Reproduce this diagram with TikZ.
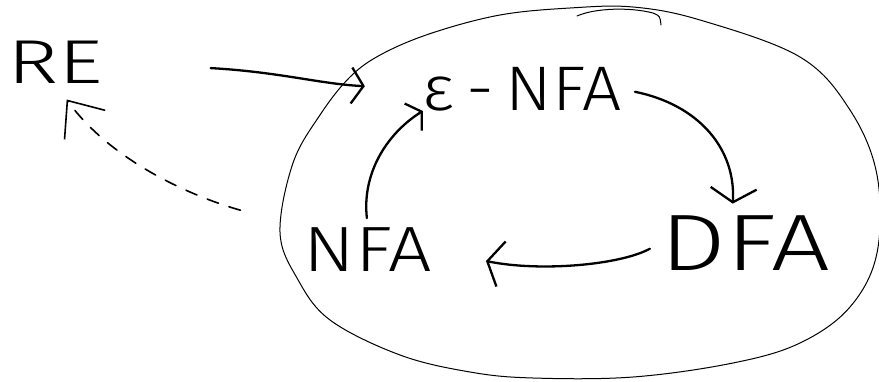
\documentclass[tikz,border=0pt]{standalone}
\usepackage{fontspec}
\setmainfont{Fira Sans}[UprightFont=* Light]
\usetikzlibrary{arrows.meta}
\begin{document}
\begin{tikzpicture}[x=1pt,y=-1pt,
  lbl/.style={inner sep=0pt,outer sep=0pt},
  conn/.style={line width=2.3pt,line cap=round,line join=round},
  rim/.style={line width=1pt,line cap=round}]
\useasboundingbox (0,0) rectangle (879,381);
% big hand-drawn oval
\draw[rim] plot[smooth cycle,tension=0.6] coordinates {
  (280,232) (293,163) (320,115) (350,77) (382,54) (432,33) (500,15) (570,8)
  (633,7) (700,20) (800,57) (850,110) (877,175) (877,253) (850,307) (800,343)
  (733,363) (633,377) (533,378) (470,372) (400,355) (330,320) (297,278)};
\draw[rim] (577,16) .. controls (595,8) and (630,7) .. (653,13) .. controls (660,16) .. (661,25);
% labels
\node[lbl,font=\fontsize{62}{62}\selectfont] (re) at (55,62) {\scalebox{1.4}[1]{RE}};
\node[lbl,font=\fontsize{63}{63}\selectfont] (enfa) at (522,89) {\scalebox{1.1}[1]{ε\,-\,NFA}};
\node[lbl,font=\fontsize{64}{64}\selectfont] (nfa) at (368,250) {\scalebox{1.2}[1]{NFA}};
\node[lbl,font=\fontsize{80}{80}\selectfont] (dfa) at (745,243) {\scalebox{1.3}[1]{DFA}};
% connectors
\draw[conn,-{Straight Barb[length=12pt,width=36pt,line width=2.3pt]},shorten <=108pt,shorten >=58pt]
  (re.east) .. controls (280,72) and (320,84) .. (enfa.west);
\draw[line width=1.6pt,dash pattern=on 12pt off 11pt,line cap=round,
  -{Straight Barb[length=30pt,width=50pt,line width=1.6pt]},shorten <=66pt,shorten >=20pt]
  (nfa.north west) .. controls (190,196) and (110,160) .. (re.south);
\draw[conn,-{Straight Barb[length=10pt,width=32pt,line width=2.3pt]},shorten <=10pt]
  (nfa.north) .. controls (362,175) and (385,135) .. (enfa.south west);
\draw[conn,-{Straight Barb[length=14pt,width=46pt,line width=2.3pt]},shorten <=14pt,shorten >=12pt]
  (enfa.east) .. controls (700,105) and (736,150) .. ([xshift=-13pt]dfa.north);
\draw[conn,-{Straight Barb[length=14pt,width=46pt,line width=2.3pt]},shorten <=12pt,shorten >=55pt]
  (dfa.west) .. controls (620,265) and (540,272) .. (nfa.east);
\end{tikzpicture}
\end{document}
